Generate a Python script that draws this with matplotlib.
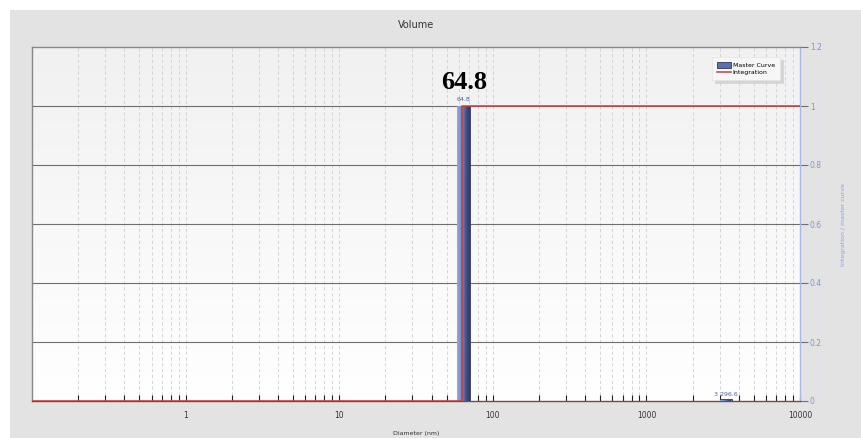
import matplotlib.pyplot as plt
import matplotlib.patches as mpatches
import matplotlib.lines as mlines
from matplotlib.colors import LinearSegmentedColormap
import numpy as np

# Data
bar_left = [58.8, 3030.0]
bar_right = [71.5, 3610.0]
bar_height = [1.0, 0.006]
peak_labels = ["64.8", "3 296.6"]
peak_pos = [64.8, 3296.6]

integ_x = [0.1, 63.0, 63.0, 10000.0]
integ_y = [0.0, 0.0, 1.0, 1.0]

x_major = [1, 10, 100, 1000, 10000]
x_major_labels = ["1", "10", "100", "1000", "10000"]
y_ticks = [0, 0.2, 0.4, 0.6, 0.8, 1.0, 1.2]
y_tick_labels = ["0", "0.2", "0.4", "0.6", "0.8", "1", "1.2"]

W, H = 862, 438
fig = plt.figure(figsize=(W / 100, H / 100), dpi=100)
fig.patch.set_facecolor("white")
fig.patches.append(mpatches.Rectangle((10 / W, 0), 1, (H - 10) / H, transform=fig.transFigure,
                                      facecolor="#e3e3e3", edgecolor="none", zorder=-10))

ax = fig.add_axes([32 / W, (H - 401) / H, (800 - 32) / W, (401 - 47) / H])
ax.set_xscale("log")

# background gradient (light grey at top to white at bottom)
bg_cmap = LinearSegmentedColormap.from_list("bg", ["#f1f1f1", "#ffffff"])
grad = np.linspace(0, 1, 256).reshape(-1, 1)
ax.imshow(grad, extent=[0, 1, 0, 1], transform=ax.transAxes, cmap=bg_cmap,
          aspect="auto", zorder=-5, origin="upper")

# vertical dashed grid at every log position
grid_x = [m * 10.0 ** e for e in range(-1, 4) for m in range(1, 10)][1:]
for gx in grid_x:
    ax.axvline(gx, color="#cfcfcf", lw=0.6, ls=(0, (4, 3)), zorder=0)
# horizontal grid
for gy in y_ticks[1:-1]:
    ax.axhline(gy, color="#6e6e6e", lw=0.8, zorder=1)

# master curve bars with a light-to-dark shading
bar_cmap = LinearSegmentedColormap.from_list("b", ["#93a6d8", "#6f85c2", "#3e4f86", "#2c3864"])
for l, r, h in zip(bar_left, bar_right, bar_height):
    bar = ax.bar(l, h, width=r - l, align="edge", color="#5a6fae", edgecolor="#2e3a66", lw=0.6, zorder=3)[0]
    sh = np.linspace(0, 1, 64).reshape(1, -1)
    im = ax.imshow(sh, extent=[l, r, 0, h], cmap=bar_cmap, aspect="auto", zorder=3.5)
    im.set_clip_path(bar)

# integration
ax.plot(integ_x, integ_y, color="#d03a3a", lw=1.1, zorder=5)

# peak labels
ax.text(peak_pos[0], 1.015, peak_labels[0], ha="center", va="bottom", fontsize=4.5, color="#4b5aa0", zorder=6)
ax.text(peak_pos[0], 1.04, peak_labels[0], ha="center", va="bottom", fontsize=19, fontweight="bold",
        family="Liberation Serif", color="black", zorder=6)
ax.text(peak_pos[1], 0.012, peak_labels[1], ha="center", va="bottom", fontsize=4.5, color="#4b5aa0", zorder=6)

ax.set_xlim(0.1, 10000)
ax.set_ylim(0, 1.2)

# x axis
ax.set_xticks(x_major)
ax.set_xticklabels(x_major_labels)
ax.set_xticks(grid_x, minor=True)
ax.tick_params(axis="x", which="both", direction="in", length=4, width=0.8, color="#222222",
               labelsize=5.5, labelcolor="#333333", pad=7)
ax.xaxis.set_minor_formatter(plt.NullFormatter())
ax.set_xlabel("Diameter (nm)", fontsize=4.5, color="#333333", labelpad=8)

# right y axis
ax.yaxis.tick_right()
ax.yaxis.set_label_position("right")
ax.set_yticks(y_ticks)
ax.set_yticklabels(y_tick_labels)
ax.tick_params(axis="y", which="major", direction="out", length=6, width=0.8, color="#6e6e6e",
               labelsize=5.5, labelcolor="#7d93e0", pad=1)
ax.set_ylabel("Integration / master curve", fontsize=4.5, color="#8aa0e6", labelpad=14)

for s in ["top", "left", "bottom"]:
    ax.spines[s].set_color("#888888")
    ax.spines[s].set_linewidth(1.0)
ax.spines["bottom"].set_color("#7a4a40")
ax.spines["right"].set_color("#a9b8ec")
ax.spines["right"].set_linewidth(1.0)

fig.text((32 + 800) / 2 / W, 1 - 25 / H, "Volume", ha="center", va="center", fontsize=7, color="#333333")

handles = [mpatches.Patch(facecolor="#5a6fae", edgecolor="#2e3a66", lw=0.6, label="Master Curve"),
           mlines.Line2D([], [], color="#d03a3a", lw=1.1, label="Integration")]
leg = ax.legend(handles=handles, loc="upper right", bbox_to_anchor=(0.978, 0.98), fontsize=4.5, frameon=True,
                shadow={"color": "#d4d4d4", "alpha": 1.0}, fancybox=False, handlelength=2.2, handleheight=1.0,
                borderpad=0.8, labelspacing=0.2, handletextpad=0.3)
leg.get_frame().set_facecolor("#f6f6f6")
leg.get_frame().set_edgecolor("#e6e6e6")
leg.get_frame().set_linewidth(0.5)

fig.savefig("out.png", dpi=100)
